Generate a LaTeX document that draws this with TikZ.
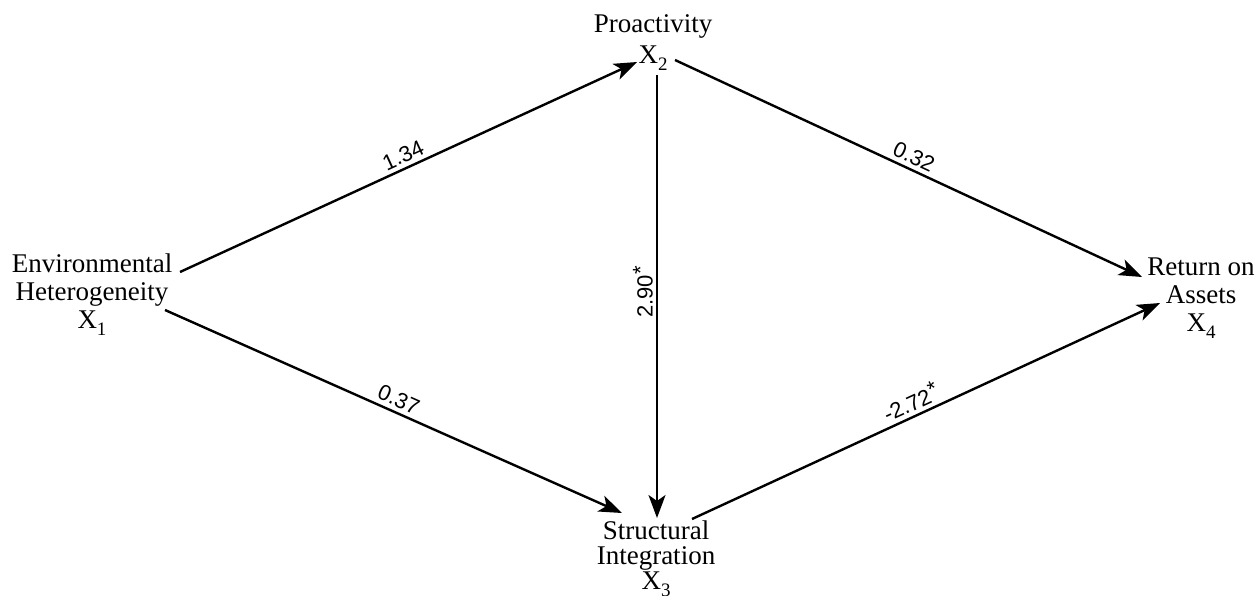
\documentclass[tikz,border=0pt]{standalone}
\usepackage{fontspec}
\setmainfont{Liberation Serif}
\newfontfamily\coeffont{Liberation Sans}
\usetikzlibrary{arrows.meta}
\newcommand{\mysub}[1]{\raisebox{-7pt}{\fontsize{19}{19}\selectfont #1}}
\newcommand{\mystar}{\raisebox{0.2em}{*}}
\begin{document}
\begin{tikzpicture}[x=1pt,y=-1pt,
  lbl/.style={font=\fontsize{27}{28}\selectfont, align=center, inner sep=0pt, anchor=north},
  coef/.style={font=\coeffont\fontsize{22}{23}\selectfont, inner sep=4pt},
  arr/.style={-{Stealth[length=23pt,width=17pt,inset=6pt]}, line width=2.4pt},
]
\useasboundingbox[fill=white] (0,0) rectangle (1260,595);
\node[lbl] (x1) at (92,254) {Environmental\\Heterogeneity\\X\mysub{1}};
\node[lbl, font=\fontsize{27}{31}\selectfont] (x2) at (653,14) {Proactivity\\X\mysub{2}};
\node[lbl, font=\fontsize{27}{25}\selectfont] (x3) at (656,521) {Structural\\Integration\\X\mysub{3}};
\node[lbl] (x4) at (1201,258) {Return on\\Assets\\X\mysub{4}};

\draw[arr] ([shift={(88,18)}]x1.north) -- ([shift={(-16,48)}]x2.north)
  node[coef, pos=0.5, sloped, anchor=south] (c12) {1.34};
\draw[arr] ([shift={(73,56)}]x1.north) -- ([shift={(-34,-8)}]x3.north)
  node[coef, pos=0.5, sloped, anchor=south] (c13) {0.37};
\draw[arr] ([shift={(4,61)}]x2.north) -- ([shift={(1,-3)}]x3.north)
  node[coef, pos=0.49, rotate=90, anchor=south, inner sep=3pt] (c23) {2.90\mystar};
\draw[arr] ([shift={(22,46)}]x2.north) -- ([shift={(-59,19)}]x4.north)
  node[coef, pos=0.5, sloped, anchor=south] (c24) {0.32};
\draw[arr] ([shift={(36,-2)}]x3.north) -- ([shift={(-41,45)}]x4.north)
  node[coef, pos=0.48, sloped, anchor=south] (c34) {-2.72\mystar};
\end{tikzpicture}
\end{document}
